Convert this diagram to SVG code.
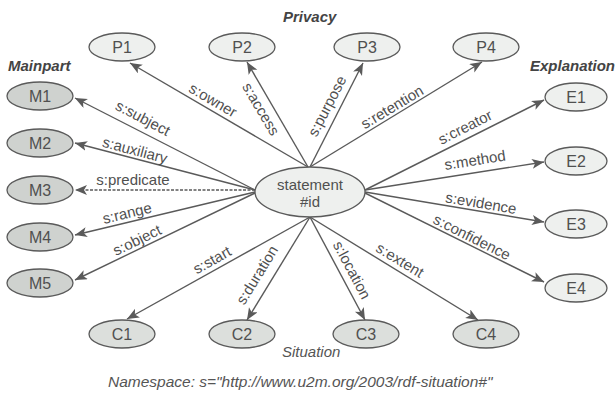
<svg xmlns="http://www.w3.org/2000/svg" width="616" height="394" viewBox="0 0 616 394">
<style>
text{font-family:"Liberation Sans",Arial,sans-serif;fill:#505050}
.nd ellipse{stroke:#5a5a5a;stroke-width:1.3}
.lt{fill:#eef0ee}
.dk{fill:#cfd2cf}
.md{fill:#dcdfdc}
.nl{font-size:16px;text-anchor:middle}
.el{font-size:15px;text-anchor:middle}
.ttl{font-size:15px;font-weight:bold;font-style:italic;fill:#444}
.it{font-size:15px;font-style:italic;fill:#555}
#edges line{stroke:#5a5a5a;stroke-width:1.4;marker-end:url(#ah)}
</style>
<defs>
<marker id="ah" markerUnits="userSpaceOnUse" markerWidth="14" markerHeight="12" refX="12" refY="5" orient="auto">
<path d="M0,0 L12,5 L0,10 L3,5 Z" fill="#5a5a5a"/>
</marker>
</defs>
<g id="edges">
<line x1="308" y1="167" x2="130" y2="63"/>
<line x1="308" y1="167" x2="247" y2="62"/>
<line x1="310" y1="167" x2="363" y2="63"/>
<line x1="310" y1="167" x2="482" y2="62"/>
<line x1="255" y1="190" x2="75" y2="98"/>
<line x1="255" y1="190" x2="75" y2="143"/>
<line x1="255" y1="190" x2="75" y2="190" stroke-dasharray="3 1.5"/>
<line x1="255" y1="192" x2="75" y2="235"/>
<line x1="255" y1="193" x2="75" y2="280"/>
<line x1="365" y1="190" x2="544" y2="100"/>
<line x1="365" y1="190" x2="544" y2="162"/>
<line x1="365" y1="192" x2="544" y2="222"/>
<line x1="365" y1="193" x2="544" y2="282"/>
<line x1="310" y1="217" x2="127" y2="319"/>
<line x1="310" y1="217" x2="247" y2="320"/>
<line x1="310" y1="217" x2="365" y2="320"/>
<line x1="310" y1="217" x2="478" y2="320"/>
</g>
<g id="edge-labels">
<text class="el" transform="translate(213,100) rotate(30.3)" dy=".35em">s:owner</text>
<text class="el" transform="translate(261,109) rotate(59.6)" dy=".35em">s:access</text>
<text class="el" transform="translate(327,106) rotate(-62.5)" dy=".35em">s:purpose</text>
<text class="el" transform="translate(392,107) rotate(-31)" dy=".35em">s:retention</text>
<text class="el" transform="translate(143,118) rotate(27.7)" dy=".35em">s:subject</text>
<text class="el" transform="translate(135,150) rotate(14.9)" dy=".35em">s:auxiliary</text>
<text class="el" transform="translate(133,180)" dy=".35em">s:predicate</text>
<text class="el" transform="translate(127,213) rotate(-13.4)" dy=".35em">s:range</text>
<text class="el" transform="translate(137,240) rotate(-25.8)" dy=".35em">s:object</text>
<text class="el" transform="translate(212,260) rotate(-29.4)" dy=".35em">s:start</text>
<text class="el" transform="translate(257,275) rotate(-58.5)" dy=".35em">s:duration</text>
<text class="el" transform="translate(352,270) rotate(62)" dy=".35em">s:location</text>
<text class="el" transform="translate(400,260) rotate(31.3)" dy=".35em">s:extent</text>
<text class="el" transform="translate(465,127) rotate(-27)" dy=".35em">s:creator</text>
<text class="el" transform="translate(475,160) rotate(-8.9)" dy=".35em">s:method</text>
<text class="el" transform="translate(481,203) rotate(9.6)" dy=".35em">s:evidence</text>
<text class="el" transform="translate(472,237) rotate(26.6)" dy=".35em">s:confidence</text>
</g>
<g id="statement" class="nd"><ellipse class="lt" cx="310" cy="192" rx="55" ry="25"/><text class="nl" style="font-size:15px" x="310" y="190">statement</text><text class="nl" style="font-size:15px" x="310" y="207">#id</text></g>
<g id="P1" class="nd"><ellipse class="lt" cx="122" cy="47" rx="33" ry="14"/><text class="nl" x="122" y="53">P1</text></g>
<g id="P2" class="nd"><ellipse class="lt" cx="242" cy="47" rx="33" ry="14"/><text class="nl" x="242" y="53">P2</text></g>
<g id="P3" class="nd"><ellipse class="lt" cx="367" cy="47" rx="33" ry="14"/><text class="nl" x="367" y="53">P3</text></g>
<g id="P4" class="nd"><ellipse class="lt" cx="486" cy="47" rx="33" ry="14"/><text class="nl" x="486" y="53">P4</text></g>
<g id="M1" class="nd"><ellipse class="dk" cx="40" cy="96" rx="33" ry="14"/><text class="nl" x="40" y="102">M1</text></g>
<g id="M2" class="nd"><ellipse class="dk" cx="40" cy="143" rx="33" ry="14"/><text class="nl" x="40" y="149">M2</text></g>
<g id="M3" class="nd"><ellipse class="dk" cx="40" cy="190" rx="33" ry="14"/><text class="nl" x="40" y="196">M3</text></g>
<g id="M4" class="nd"><ellipse class="dk" cx="40" cy="237" rx="33" ry="14"/><text class="nl" x="40" y="243">M4</text></g>
<g id="M5" class="nd"><ellipse class="dk" cx="40" cy="283" rx="33" ry="14"/><text class="nl" x="40" y="289">M5</text></g>
<g id="E1" class="nd"><ellipse class="lt" cx="576" cy="97" rx="31" ry="14"/><text class="nl" x="576" y="103">E1</text></g>
<g id="E2" class="nd"><ellipse class="lt" cx="576" cy="161" rx="31" ry="14"/><text class="nl" x="576" y="167">E2</text></g>
<g id="E3" class="nd"><ellipse class="lt" cx="576" cy="224" rx="31" ry="14"/><text class="nl" x="576" y="230">E3</text></g>
<g id="E4" class="nd"><ellipse class="lt" cx="576" cy="288" rx="31" ry="14"/><text class="nl" x="576" y="294">E4</text></g>
<g id="C1" class="nd"><ellipse class="md" cx="122" cy="334" rx="33" ry="14"/><text class="nl" x="122" y="340">C1</text></g>
<g id="C2" class="nd"><ellipse class="md" cx="242" cy="334" rx="33" ry="14"/><text class="nl" x="242" y="340">C2</text></g>
<g id="C3" class="nd"><ellipse class="md" cx="366" cy="334" rx="33" ry="14"/><text class="nl" x="366" y="340">C3</text></g>
<g id="C4" class="nd"><ellipse class="md" cx="486" cy="334" rx="33" ry="14"/><text class="nl" x="486" y="340">C4</text></g>
<g id="titles">
<text class="ttl" x="283" y="22">Privacy</text>
<text class="ttl" x="8" y="71">Mainpart</text>
<text class="ttl" x="530" y="71">Explanation</text>
<text class="it" x="282" y="357">Situation</text>
<text class="it" x="108" y="387" style="font-size:15.5px">Namespace: s="http://www.u2m.org/2003/rdf-situation#"</text>
</g>
</svg>
